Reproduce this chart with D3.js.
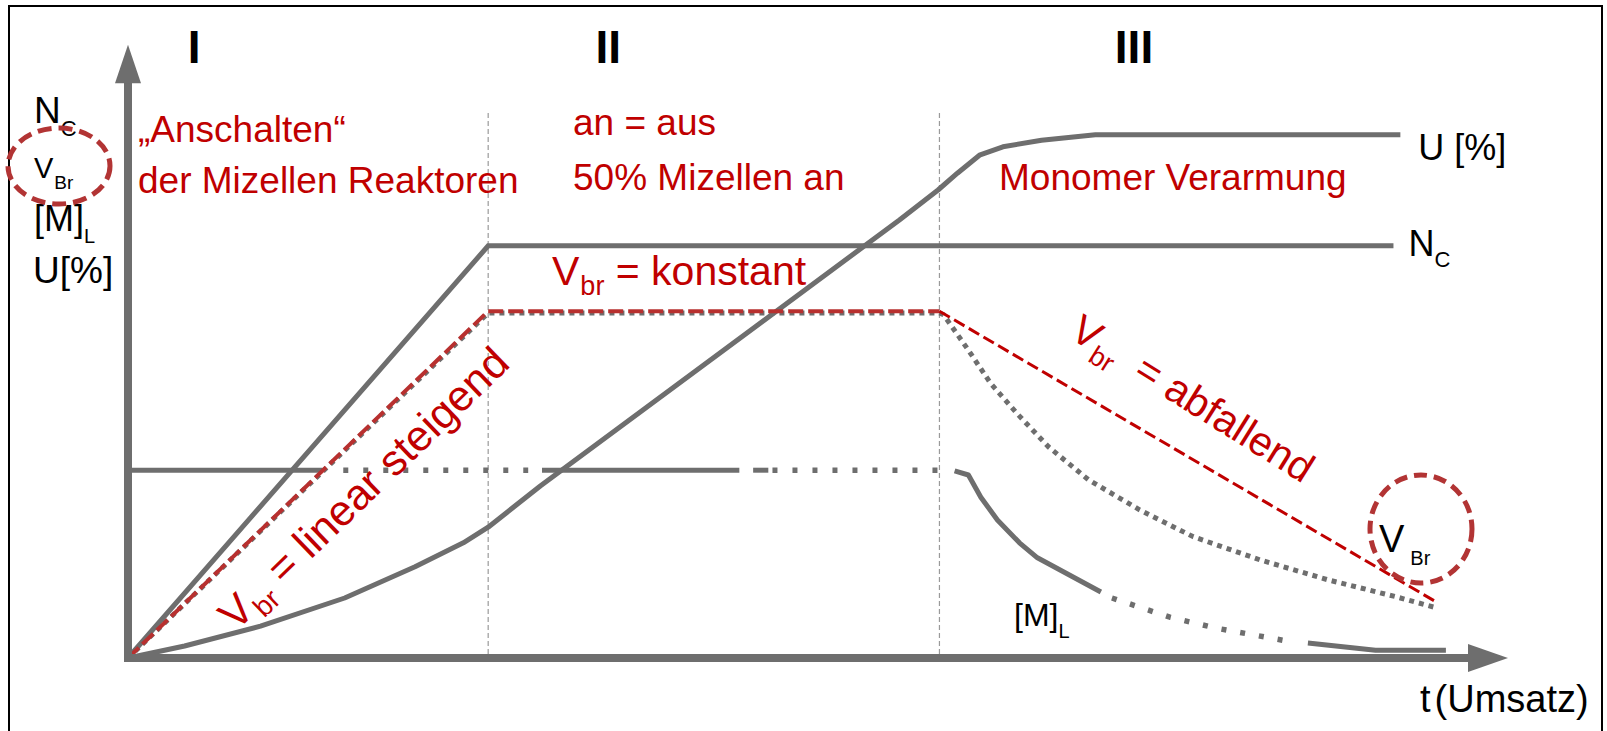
<!DOCTYPE html>
<html>
<head>
<meta charset="utf-8">
<script src="https://cdn.jsdelivr.net/npm/d3@7"></script>
<style>
  body { margin: 0; background: #fff; }
  svg { display: block; }
  text { font-family: "Liberation Sans", Arial, sans-serif; }
</style>
</head>
<body>
<script>
const width = 1607
const height = 731

// t axis in arbitrary units 0..100, value axis 0..100
const phases = [26.1, 58.8]
const phaseLabels = ['I', 'II', 'III']
const phaseLabelT = [4.8, 34.8, 72.9]

const nc = [[0, 0], [26.1, 68.7], [91.7, 68.7]]
const uCurve = [[0, 0], [4.1, 2.0], [9.6, 5.3], [15.7, 10.0], [20.8, 15.2], [24.3, 19.2], [26.1, 21.8],
  [29.9, 28.7], [55.9, 73.0], [58.7, 78.0], [60.1, 80.8], [61.7, 83.8], [63.4, 85.2], [66.2, 86.3],
  [70.1, 87.2], [92.2, 87.2]]
const vbrRise = [[0, 0], [26.1, 57.8], [58.8, 57.8]]
const vbrFall = [[58.8, 57.8], [94.9, 9.2]]
const vbrReal = [[0, 0], [26.1, 57.5], [58.8, 57.5], [59.1, 57.2], [60.9, 51.3], [62.5, 45.8], [64.4, 40.8],
  [66.7, 35.2], [69.6, 29.7], [73.3, 24.7], [77.2, 20.2], [82.1, 16.3], [87.0, 13.0], [91.9, 10.2], [94.9, 8.3]]
const mlSegments = [
  { style: 'solid', pts: [[0, 31.3], [14.1, 31.3]] },
  { style: 'dot', pts: [[15.6, 31.3], [29.0, 31.3]] },
  { style: 'solid', pts: [[30.0, 31.3], [44.3, 31.3]] },
  { style: 'solid', pts: [[45.3, 31.3], [46.4, 31.3]] },
  { style: 'dot', pts: [[46.7, 31.3], [58.7, 31.3]] },
  { style: 'solid', pts: [[59.9, 31.2], [60.9, 30.5], [61.8, 26.8], [63.0, 23.0], [64.6, 19.2], [65.9, 16.7], [70.5, 11.0]] },
  { style: 'dot2', pts: [[71.3, 10.0], [75.5, 6.8], [78.8, 5.0], [84.3, 2.7]] },
  { style: 'solid', pts: [[85.5, 2.5], [90.4, 1.3], [95.5, 1.3]] }
]

const grey = '#6e6e6e'
const red = '#c00000'
const ringRed = '#b23434'

const x = d3.scaleLinear().domain([0, 100]).range([128, 1508])
const y = d3.scaleLinear().domain([0, 100]).range([658, 58])

const line = d3.line()
  .x(d => x(d[0]))
  .y(d => y(d[1]))

const svg = d3.select('body')
  .append('svg')
  .attr('width', width)
  .attr('height', height)

// frame
svg.append('rect')
  .attr('x', 9).attr('y', 6)
  .attr('width', 1593).attr('height', 760)
  .attr('fill', 'none')
  .attr('stroke', '#000')
  .attr('stroke-width', 2)

// phase boundaries
svg.selectAll('line.phase')
  .data(phases)
  .enter()
  .append('line')
  .attr('class', 'phase')
  .attr('x1', d => x(d)).attr('x2', d => x(d))
  .attr('y1', 113).attr('y2', y(0))
  .attr('stroke', '#9a9a9a')
  .attr('stroke-width', 1.2)
  .attr('stroke-dasharray', '5,3')

svg.selectAll('text.phase')
  .data(phaseLabels)
  .enter()
  .append('text')
  .attr('class', 'phase')
  .attr('x', (d, i) => x(phaseLabelT[i]))
  .attr('y', 63)
  .attr('text-anchor', 'middle')
  .attr('font-size', 46)
  .attr('font-weight', 'bold')
  .text(d => d)

const curves = svg.append('g').attr('fill', 'none')

curves.append('path').attr('d', line(nc))
  .attr('stroke', grey).attr('stroke-width', 5)
curves.append('path').attr('d', line(uCurve))
  .attr('stroke', grey).attr('stroke-width', 5).attr('stroke-linejoin', 'round')

const mlDash = { solid: null, dot: '5,15', dot2: '5,14' }
curves.selectAll('path.ml')
  .data(mlSegments)
  .enter()
  .append('path')
  .attr('class', 'ml')
  .attr('d', d => line(d.pts))
  .attr('stroke', grey)
  .attr('stroke-width', d => d.style === 'solid' ? 5 : 5.5)
  .attr('stroke-dasharray', d => mlDash[d.style])
  .attr('stroke-linejoin', 'round')

// real Vbr (grey dotted) under the idealised red one
curves.append('path').attr('d', line(vbrReal))
  .attr('stroke', grey).attr('stroke-width', 5).attr('stroke-dasharray', '5,5')
curves.append('path').attr('d', line(vbrRise))
  .attr('stroke', '#b8302f').attr('stroke-width', 4).attr('stroke-dasharray', '15,5')
curves.append('path').attr('d', line(vbrFall))
  .attr('stroke', red).attr('stroke-width', 3).attr('stroke-dasharray', '12,5')

// axes
const axes = svg.append('g').attr('fill', grey).attr('stroke', grey)
axes.append('line')
  .attr('x1', x(0)).attr('x2', x(0))
  .attr('y1', y(0) + 4).attr('y2', y(96))
  .attr('stroke-width', 8)
axes.append('polygon')
  .attr('stroke', 'none')
  .attr('points', [[x(0), y(102.2)], [x(0) - 13, y(95.8)], [x(0) + 13, y(95.8)]].join(' '))
axes.append('line')
  .attr('x1', x(0) - 4).attr('x2', x(97.5))
  .attr('y1', y(0)).attr('y2', y(0))
  .attr('stroke-width', 8)
axes.append('polygon')
  .attr('stroke', 'none')
  .attr('points', [[x(100), y(0)], [x(97.1), y(0) - 14], [x(97.1), y(0) + 14]].join(' '))

function rich (parts, attrs) {
  const t = svg.append('text')
  Object.entries(attrs).forEach(([k, v]) => t.attr(k, v))
  parts.forEach(p => {
    t.append('tspan')
      .attr('font-size', p.size)
      .attr('dy', p.dy || 0)
      .attr('dx', p.dx || 0)
      .text(p.text)
  })
  return t
}

// left axis labels
rich([{ text: 'N', size: 37 }, { text: 'C', size: 22, dy: 13 }], { x: 34, y: 123 })
rich([{ text: 'V', size: 29 }, { text: 'Br', size: 19, dy: 11, dx: 1 }], { x: 34, y: 178 })
rich([{ text: '[M]', size: 36 }, { text: 'L', size: 20, dy: 12 }], { x: 34, y: 231 })
rich([{ text: 'U[%]', size: 37 }], { x: 33, y: 283 })

svg.append('ellipse')
  .attr('cx', 59).attr('cy', 166).attr('rx', 51).attr('ry', 38)
  .attr('fill', 'none').attr('stroke', ringRed)
  .attr('stroke-width', 5).attr('stroke-dasharray', '14,7')

// right curve labels
rich([{ text: 'U [%]', size: 36 }], { x: x(92.2) + 18, y: 160 })
rich([{ text: 'N', size: 36 }, { text: 'C', size: 22, dy: 11 }], { x: x(91.7) + 15, y: 256 })
rich([{ text: '[M]', size: 32 }, { text: 'L', size: 20, dy: 12 }], { x: 1014, y: 626 })
rich([{ text: 'V', size: 38 }, { text: 'Br', size: 20, dy: 13, dx: 6 }], { x: 1379, y: 552 })
svg.append('ellipse')
  .attr('cx', 1421).attr('cy', 529).attr('rx', 51).attr('ry', 54)
  .attr('fill', 'none').attr('stroke', ringRed)
  .attr('stroke-width', 5).attr('stroke-dasharray', '13,7')
rich([{ text: 't', size: 38 }, { text: '(Umsatz)', size: 38, dx: 4 }], { x: 1420, y: 712 })

// red annotations
const notes = svg.append('g').attr('fill', red).attr('font-size', 37)
notes.append('text').attr('x', 138).attr('y', 142).text('\u201eAnschalten\u201c')
notes.append('text').attr('x', 138).attr('y', 193).text('der Mizellen Reaktoren')
notes.append('text').attr('x', 573).attr('y', 135).text('an = aus')
notes.append('text').attr('x', 573).attr('y', 190).text('50% Mizellen an')
notes.append('text').attr('x', 999).attr('y', 190).text('Monomer Verarmung')

const vbrText = (rest, size) => [
  { text: 'V', size: size },
  { text: 'br', size: Math.round(size * 0.66), dy: 10, dx: 1 },
  { text: rest, size: size, dy: -10 }
]
rich(vbrText(' = konstant', 41), { x: 552, y: 285, fill: red })
rich(vbrText(' = linear steigend', 43), { transform: 'translate(236,632) rotate(-44)', fill: red })
rich(vbrText('  = abfallend', 41), { transform: 'translate(1068,337) rotate(32)', fill: red, 'xml:space': 'preserve' })
</script>
</body>
</html>
